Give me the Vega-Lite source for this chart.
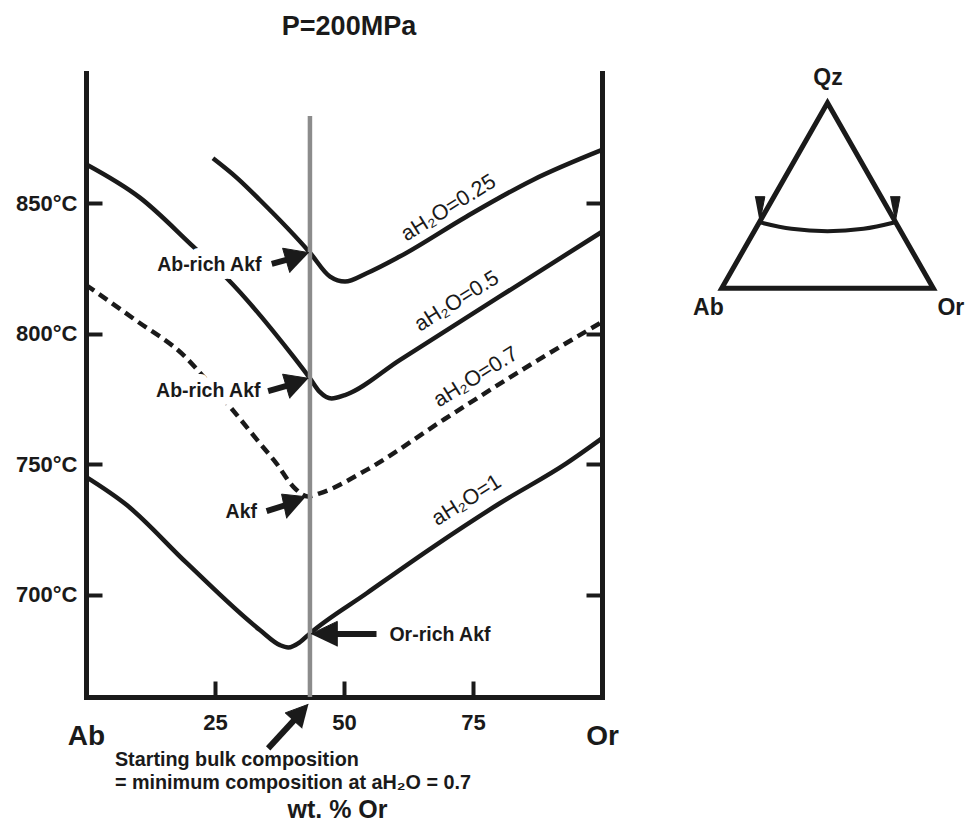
{
  "$schema": "https://vega.github.io/schema/vega-lite/v6.json",
  "usermeta": {"embedOptions": {"actions": false}},
  "width": 516,
  "height": 624,
  "autosize": {"type": "none"},
  "padding": {"left": 86, "top": 73, "right": 363, "bottom": 126},
  "background": "white",
  "title": {
    "text": "P=200MPa",
    "font": "Liberation Sans",
    "fontSize": 27,
    "fontWeight": "bold",
    "color": "#1a1a1a",
    "anchor": "middle",
    "frame": "group",
    "baseline": "alphabetic",
    "offset": 5,
    "dx": 5
  },
  "config": {
    "view": {"stroke": null},
    "font": "Liberation Sans",
    "axis": {
      "domainColor": "#1a1a1a",
      "domainWidth": 5,
      "domainCap": "square",
      "tickColor": "#1a1a1a",
      "tickWidth": 4,
      "tickSize": -16,
      "grid": false,
      "labelColor": "#1a1a1a",
      "labelFont": "Liberation Sans",
      "labelFontWeight": "bold",
      "titleFont": "Liberation Sans",
      "titleColor": "#1a1a1a"
    }
  },
  "datasets": {
    "curves": [
      {"aH2O": "0.25", "wt": 24.6, "T": 867.3},
      {"aH2O": "0.25", "wt": 29.3, "T": 859.7},
      {"aH2O": "0.25", "wt": 33.7, "T": 851.3},
      {"aH2O": "0.25", "wt": 43.4, "T": 831.1},
      {"aH2O": "0.25", "wt": 47.3, "T": 821.9},
      {"aH2O": "0.25", "wt": 50.2, "T": 820.0},
      {"aH2O": "0.25", "wt": 54.4, "T": 823.2},
      {"aH2O": "0.25", "wt": 60.8, "T": 829.6},
      {"aH2O": "0.25", "wt": 73.7, "T": 844.9},
      {"aH2O": "0.25", "wt": 86.6, "T": 859.0},
      {"aH2O": "0.25", "wt": 100, "T": 870.5},

      {"aH2O": "0.5", "wt": 0, "T": 865.0},
      {"aH2O": "0.5", "wt": 10.5, "T": 852.1},
      {"aH2O": "0.5", "wt": 20.8, "T": 833.4},
      {"aH2O": "0.5", "wt": 27.3, "T": 821.3},
      {"aH2O": "0.5", "wt": 40.2, "T": 791.2},
      {"aH2O": "0.5", "wt": 43.4, "T": 782.9},
      {"aH2O": "0.5", "wt": 45.3, "T": 777.7},
      {"aH2O": "0.5", "wt": 47.6, "T": 775.2},
      {"aH2O": "0.5", "wt": 50.2, "T": 776.5},
      {"aH2O": "0.5", "wt": 60.8, "T": 789.9},
      {"aH2O": "0.5", "wt": 80.2, "T": 814.3},
      {"aH2O": "0.5", "wt": 100, "T": 839.1},

      {"aH2O": "0.7", "wt": 0, "T": 818.7},
      {"aH2O": "0.7", "wt": 9.7, "T": 805.1},
      {"aH2O": "0.7", "wt": 19.2, "T": 791.2},
      {"aH2O": "0.7", "wt": 23.5, "T": 781.9},
      {"aH2O": "0.7", "wt": 27.9, "T": 772.0},
      {"aH2O": "0.7", "wt": 33.7, "T": 758.0},
      {"aH2O": "0.7", "wt": 36.9, "T": 750.3},
      {"aH2O": "0.7", "wt": 40.2, "T": 741.3},
      {"aH2O": "0.7", "wt": 43.0, "T": 737.6},
      {"aH2O": "0.7", "wt": 45.3, "T": 738.8},
      {"aH2O": "0.7", "wt": 54.4, "T": 747.8},
      {"aH2O": "0.7", "wt": 69.2, "T": 766.9},
      {"aH2O": "0.7", "wt": 86.6, "T": 788.7},
      {"aH2O": "0.7", "wt": 100, "T": 804.5},

      {"aH2O": "1", "wt": 0, "T": 745.1},
      {"aH2O": "1", "wt": 7.9, "T": 734.3},
      {"aH2O": "1", "wt": 19.5, "T": 712.1},
      {"aH2O": "1", "wt": 33.7, "T": 686.4},
      {"aH2O": "1", "wt": 37.6, "T": 680.6},
      {"aH2O": "1", "wt": 39.2, "T": 679.7},
      {"aH2O": "1", "wt": 41.5, "T": 681.8},
      {"aH2O": "1", "wt": 43.4, "T": 685.1},
      {"aH2O": "1", "wt": 54.4, "T": 700.5},
      {"aH2O": "1", "wt": 67.3, "T": 718.3},
      {"aH2O": "1", "wt": 80.2, "T": 735.0},
      {"aH2O": "1", "wt": 93.1, "T": 750.3},
      {"aH2O": "1", "wt": 100, "T": 759.9}
    ],
    "bulk": [
      {"wt": 43.4, "T": 660.7, "T2": 883.5}
    ],
    "labels": [
      {"kind": "callout", "text": "Ab-rich Akf", "wt": 23.9, "T": 826.4},
      {"kind": "callout", "text": "Ab-rich Akf", "wt": 23.7, "T": 778.0},
      {"kind": "callout", "text": "Akf", "wt": 30.1, "T": 731.8},
      {"kind": "callout", "text": "Or-rich Akf", "wt": 68.6, "T": 684.5},
      {"kind": "curve", "text": "aH₂O=0.25", "wt": 70.3, "T": 848.1},
      {"kind": "curve", "text": "aH₂O=0.5", "wt": 71.9, "T": 812.3},
      {"kind": "curve", "text": "aH₂O=0.7", "wt": 75.6, "T": 783.2},
      {"kind": "curve", "text": "aH₂O=1", "wt": 73.8, "T": 736.0},
      {"kind": "note", "text": "Starting bulk composition", "wt": 5.6, "T": 636.5},
      {"kind": "note", "text": "= minimum composition at aH₂O = 0.7", "wt": 5.6, "T": 627.7}
    ],
    "arrows": [
      {"arrow": "a1", "part": "shaft", "k": 0, "wt": 36.0, "T": 826.8},
      {"arrow": "a1", "part": "shaft", "k": 1, "wt": 39.9, "T": 828.9},
      {"arrow": "a1", "part": "head", "k": 0, "wt": 43.2, "T": 831.1},
      {"arrow": "a1", "part": "head", "k": 1, "wt": 38.1, "T": 832.8},
      {"arrow": "a1", "part": "head", "k": 2, "wt": 39.5, "T": 823.4},

      {"arrow": "a2", "part": "shaft", "k": 0, "wt": 35.3, "T": 778.0},
      {"arrow": "a2", "part": "shaft", "k": 1, "wt": 39.9, "T": 780.6},
      {"arrow": "a2", "part": "head", "k": 0, "wt": 43.1, "T": 782.9},
      {"arrow": "a2", "part": "head", "k": 1, "wt": 38.1, "T": 784.5},
      {"arrow": "a2", "part": "head", "k": 2, "wt": 39.5, "T": 775.2},

      {"arrow": "a3", "part": "shaft", "k": 0, "wt": 35.0, "T": 732.0},
      {"arrow": "a3", "part": "shaft", "k": 1, "wt": 39.5, "T": 734.8},
      {"arrow": "a3", "part": "head", "k": 0, "wt": 42.6, "T": 737.5},
      {"arrow": "a3", "part": "head", "k": 1, "wt": 37.9, "T": 738.5},
      {"arrow": "a3", "part": "head", "k": 2, "wt": 38.9, "T": 729.2},

      {"arrow": "a4", "part": "shaft", "k": 0, "wt": 56.3, "T": 684.9},
      {"arrow": "a4", "part": "shaft", "k": 1, "wt": 47.5, "T": 684.9},
      {"arrow": "a4", "part": "head", "k": 0, "wt": 43.6, "T": 684.9},
      {"arrow": "a4", "part": "head", "k": 1, "wt": 48.7, "T": 689.7},
      {"arrow": "a4", "part": "head", "k": 2, "wt": 48.7, "T": 680.1},

      {"arrow": "a5", "part": "shaft", "k": 0, "wt": 35.3, "T": 641.0},
      {"arrow": "a5", "part": "shaft", "k": 1, "wt": 40.7, "T": 652.6},
      {"arrow": "a5", "part": "head", "k": 0, "wt": 43.1, "T": 657.9},
      {"arrow": "a5", "part": "head", "k": 1, "wt": 38.6, "T": 654.6},
      {"arrow": "a5", "part": "head", "k": 2, "wt": 41.9, "T": 648.7}
    ],
    "ternary": [
      {"part": "frame", "k": 0, "u": 0, "v": 0},
      {"part": "frame", "k": 1, "u": 1, "v": 0},
      {"part": "frame", "k": 2, "u": 0.5, "v": 0.877},
      {"part": "frame", "k": 3, "u": 0, "v": 0},
      {"part": "frame", "k": 4, "u": 1, "v": 0},

      {"part": "cotectic", "k": 0, "u": 0.18, "v": 0.312},
      {"part": "cotectic", "k": 1, "u": 0.33, "v": 0.281},
      {"part": "cotectic", "k": 2, "u": 0.5, "v": 0.27},
      {"part": "cotectic", "k": 3, "u": 0.67, "v": 0.281},
      {"part": "cotectic", "k": 4, "u": 0.82, "v": 0.312},

      {"part": "markAb", "k": 0, "u": 0.157, "v": 0.433},
      {"part": "markAb", "k": 1, "u": 0.204, "v": 0.433},
      {"part": "markAb", "k": 2, "u": 0.18, "v": 0.312},
      {"part": "markOr", "k": 0, "u": 0.796, "v": 0.433},
      {"part": "markOr", "k": 1, "u": 0.843, "v": 0.433},
      {"part": "markOr", "k": 2, "u": 0.82, "v": 0.312}
    ],
    "apices": [
      {"text": "Qz", "u": 0.502, "v": 0.992},
      {"text": "Ab", "u": -0.063, "v": -0.095},
      {"text": "Or", "u": 1.083, "v": -0.095}
    ]
  },
  "layer": [
    {
      "layer": [
        {
          "data": {"name": "curves"},
          "transform": [{"filter": "datum.aH2O !== '0.7'"}],
          "mark": {"type": "line", "interpolate": "monotone", "strokeWidth": 4.5, "color": "#1a1a1a"},
          "encoding": {
            "x": {
              "field": "wt", "type": "quantitative",
              "scale": {"domain": [0, 100], "nice": false, "zero": false},
              "axis": {
                "orient": "bottom",
                "values": [0, 25, 50, 75, 100],
                "title": "wt. % Or",
                "titleFontSize": 25,
                "titleFontWeight": "bold",
                "titleBaseline": "alphabetic",
                "titleX": 251,
                "titleY": 120,
                "labelExpr": "datum.value === 0 ? 'Ab' : datum.value === 100 ? 'Or' : datum.label",
                "labelFontSize": {"condition": {"test": "datum.value === 0 || datum.value === 100", "value": 28}, "value": 22},
                "labelBaseline": {"condition": {"test": "datum.value === 0 || datum.value === 100", "value": "top"}, "value": "middle"},
                "labelPadding": 41,
                "labelFlush": false,
                "labelOverlap": false
              }
            },
            "y": {
              "field": "T", "type": "quantitative",
              "scale": {"domain": [660.7, 900], "nice": false, "zero": false},
              "axis": {
                "orient": "left",
                "values": [700, 750, 800, 850],
                "title": null,
                "labelExpr": "datum.value + '°C'",
                "labelFontSize": 22,
                "labelPadding": 25
              }
            },
            "detail": {"field": "aH2O"}
          }
        },
        {
          "data": {"name": "curves"},
          "transform": [{"filter": "datum.aH2O === '0.7'"}],
          "mark": {"type": "line", "interpolate": "monotone", "strokeWidth": 4.5, "color": "#1a1a1a", "strokeDash": [10, 6]},
          "encoding": {
            "x": {"field": "wt", "type": "quantitative", "scale": {"domain": [0, 100], "nice": false, "zero": false}},
            "y": {
              "field": "T", "type": "quantitative",
              "scale": {"domain": [660.7, 900], "nice": false, "zero": false},
              "axis": {"orient": "right", "values": [700, 750, 800, 850], "labels": false, "title": null}
            }
          }
        },
        {
          "layer": [
            {
              "data": {"name": "bulk"},
              "mark": {"type": "rule", "color": "#8c8c8c", "strokeWidth": 4.5},
              "encoding": {
                "x": {"field": "wt", "type": "quantitative", "scale": {"domain": [0, 100], "nice": false, "zero": false}},
                "y": {"field": "T", "type": "quantitative", "scale": {"domain": [660.7, 900], "nice": false, "zero": false}, "axis": null},
                "y2": {"field": "T2"}
              }
            },
            {
              "data": {"name": "labels"},
              "transform": [{"filter": "datum.kind === 'callout'"}],
              "mark": {"type": "text", "font": "Liberation Sans", "fontWeight": "bold", "fontSize": 19.5, "fill": "white", "stroke": "white", "strokeWidth": 16, "strokeJoin": "round", "align": "center", "baseline": "middle"},
              "encoding": {
                "x": {"field": "wt", "type": "quantitative", "scale": {"domain": [0, 100], "nice": false, "zero": false}},
                "y": {"field": "T", "type": "quantitative", "scale": {"domain": [660.7, 900], "nice": false, "zero": false}, "axis": null},
                "text": {"field": "text"}
              }
            },
            {
              "data": {"name": "labels"},
              "transform": [{"filter": "datum.kind === 'callout'"}],
              "mark": {"type": "text", "font": "Liberation Sans", "fontWeight": "bold", "fontSize": 19.5, "color": "#1a1a1a", "align": "center", "baseline": "middle"},
              "encoding": {
                "x": {"field": "wt", "type": "quantitative", "scale": {"domain": [0, 100], "nice": false, "zero": false}},
                "y": {"field": "T", "type": "quantitative", "scale": {"domain": [660.7, 900], "nice": false, "zero": false}, "axis": null},
                "text": {"field": "text"}
              }
            },
            {
              "data": {"name": "labels"},
              "transform": [{"filter": "datum.kind === 'curve'"}],
              "mark": {"type": "text", "font": "Liberation Sans", "fontWeight": "normal", "fontSize": 21.5, "color": "#1a1a1a", "align": "center", "baseline": "middle", "angle": 328},
              "encoding": {
                "x": {"field": "wt", "type": "quantitative", "scale": {"domain": [0, 100], "nice": false, "zero": false}},
                "y": {"field": "T", "type": "quantitative", "scale": {"domain": [660.7, 900], "nice": false, "zero": false}, "axis": null},
                "text": {"field": "text"}
              }
            },
            {
              "data": {"name": "labels"},
              "transform": [{"filter": "datum.kind === 'note'"}],
              "mark": {"type": "text", "font": "Liberation Sans", "fontWeight": "bold", "fontSize": 19.8, "color": "#1a1a1a", "align": "left", "baseline": "middle"},
              "encoding": {
                "x": {"field": "wt", "type": "quantitative", "scale": {"domain": [0, 100], "nice": false, "zero": false}},
                "y": {"field": "T", "type": "quantitative", "scale": {"domain": [660.7, 900], "nice": false, "zero": false}, "axis": null},
                "text": {"field": "text"}
              }
            },
            {
              "data": {"name": "arrows"},
              "transform": [{"filter": "datum.part === 'shaft'"}],
              "mark": {"type": "line", "strokeWidth": 6, "color": "#1a1a1a", "strokeCap": "butt"},
              "encoding": {
                "x": {"field": "wt", "type": "quantitative", "scale": {"domain": [0, 100], "nice": false, "zero": false}},
                "y": {"field": "T", "type": "quantitative", "scale": {"domain": [660.7, 900], "nice": false, "zero": false}, "axis": null},
                "detail": {"field": "arrow"},
                "order": {"field": "k"}
              }
            },
            {
              "data": {"name": "arrows"},
              "transform": [{"filter": "datum.part === 'head'"}],
              "mark": {"type": "line", "fill": "#1a1a1a", "stroke": "#1a1a1a", "strokeWidth": 1, "strokeJoin": "miter"},
              "encoding": {
                "x": {"field": "wt", "type": "quantitative", "scale": {"domain": [0, 100], "nice": false, "zero": false}},
                "y": {"field": "T", "type": "quantitative", "scale": {"domain": [660.7, 900], "nice": false, "zero": false}, "axis": null},
                "detail": {"field": "arrow"},
                "order": {"field": "k"}
              }
            }
          ]
        }
      ],
      "resolve": {"axis": {"y": "independent"}}
    },
    {
      "layer": [
        {
          "data": {"name": "ternary"},
          "transform": [{"filter": "datum.part === 'frame'"}],
          "mark": {"type": "line", "strokeWidth": 5, "color": "#1a1a1a", "strokeJoin": "miter"},
          "encoding": {
            "x": {"field": "u", "type": "quantitative", "scale": {"domain": [0, 1], "range": [635.7, 847.3], "nice": false, "zero": false}, "axis": null},
            "y": {"field": "v", "type": "quantitative", "scale": {"domain": [0, 1], "range": [215.3, 3.7], "nice": false, "zero": false}, "axis": null},
            "order": {"field": "k"}
          }
        },
        {
          "data": {"name": "ternary"},
          "transform": [{"filter": "datum.part === 'cotectic'"}],
          "mark": {"type": "line", "strokeWidth": 4, "color": "#1a1a1a", "interpolate": "monotone"},
          "encoding": {
            "x": {"field": "u", "type": "quantitative", "scale": {"domain": [0, 1], "range": [635.7, 847.3], "nice": false, "zero": false}, "axis": null},
            "y": {"field": "v", "type": "quantitative", "scale": {"domain": [0, 1], "range": [215.3, 3.7], "nice": false, "zero": false}, "axis": null},
            "order": {"field": "k"}
          }
        },
        {
          "data": {"name": "ternary"},
          "transform": [{"filter": "datum.part === 'markAb' || datum.part === 'markOr'"}],
          "mark": {"type": "line", "fill": "#1a1a1a", "stroke": "#1a1a1a", "strokeWidth": 1},
          "encoding": {
            "x": {"field": "u", "type": "quantitative", "scale": {"domain": [0, 1], "range": [635.7, 847.3], "nice": false, "zero": false}, "axis": null},
            "y": {"field": "v", "type": "quantitative", "scale": {"domain": [0, 1], "range": [215.3, 3.7], "nice": false, "zero": false}, "axis": null},
            "detail": {"field": "part"},
            "order": {"field": "k"}
          }
        },
        {
          "data": {"name": "apices"},
          "mark": {"type": "text", "font": "Liberation Sans", "fontWeight": "bold", "fontSize": 23, "color": "#1a1a1a", "align": "center", "baseline": "middle"},
          "encoding": {
            "x": {"field": "u", "type": "quantitative", "scale": {"domain": [0, 1], "range": [635.7, 847.3], "nice": false, "zero": false}, "axis": null},
            "y": {"field": "v", "type": "quantitative", "scale": {"domain": [0, 1], "range": [215.3, 3.7], "nice": false, "zero": false}, "axis": null},
            "text": {"field": "text"}
          }
        }
      ]
    }
  ],
  "resolve": {
    "scale": {"x": "independent", "y": "independent"},
    "axis": {"x": "independent", "y": "independent"}
  }
}
